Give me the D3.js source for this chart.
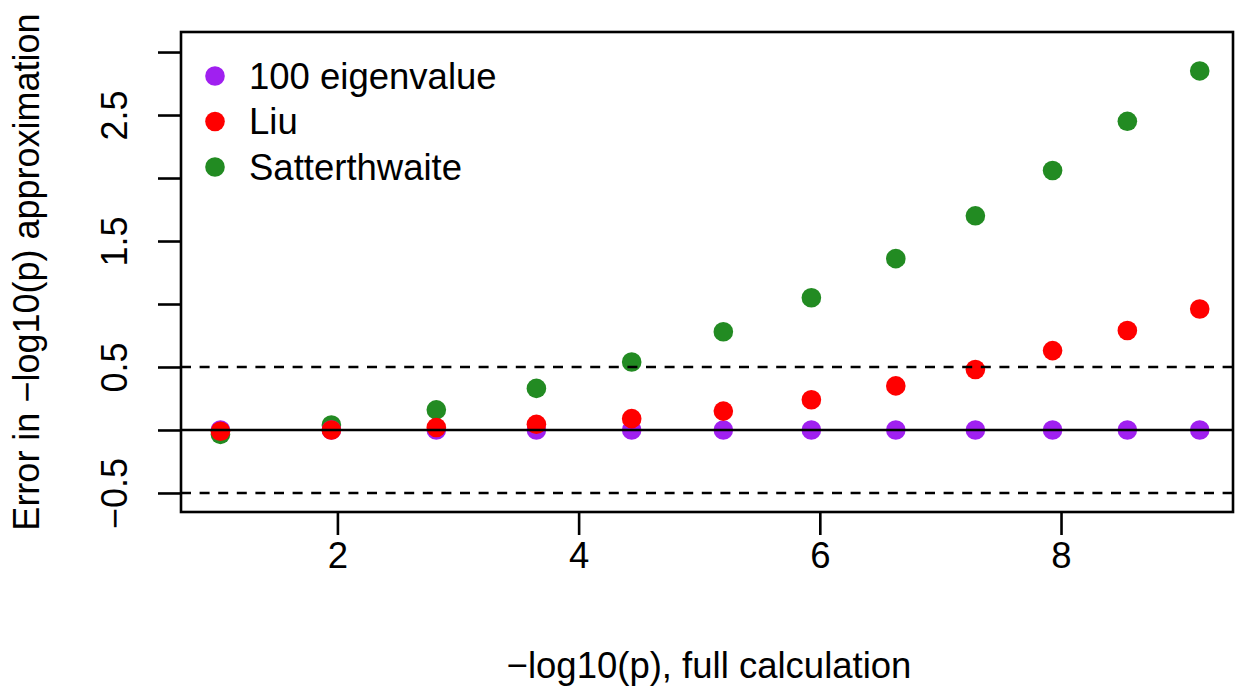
<!DOCTYPE html>
<html><head><meta charset="utf-8">
<script src="https://cdn.jsdelivr.net/npm/d3@7"></script>
<style>
body{margin:0;background:#fff;}
svg text{font-family:"Liberation Sans",Arial,sans-serif;fill:#000;}
</style></head>
<body><svg id="c" width="1244" height="694"></svg>
<script>
const xVals = [1.03, 1.95, 2.82, 3.65, 4.44, 5.20, 5.93, 6.63, 7.29, 7.93, 8.55, 9.15];
const eigen100 = [0, 0, 0, 0, 0, 0, 0, 0, 0, 0, 0, 0];
const liu = [-0.01, 0.00, 0.02, 0.045, 0.09, 0.15, 0.24, 0.35, 0.48, 0.63, 0.79, 0.96];
const satterthwaite = [-0.035, 0.04, 0.16, 0.33, 0.54, 0.78, 1.05, 1.36, 1.70, 2.06, 2.45, 2.85];
const seriesNames = ["100 eigenvalue", "Liu", "Satterthwaite"];
const seriesColors = ["#A020F0", "#FF0000", "#228B22"];
const xTicks = [2, 4, 6, 8];
const yTicks = [-0.5, 0, 0.5, 1, 1.5, 2, 2.5, 3];
const yTickLabels = ["−0.5", "", "0.5", "", "1.5", "", "2.5", ""];
const refLines = [{v: 0, dash: null}, {v: 0.5, dash: "10 8.6"}, {v: -0.5, dash: "10 8.6"}];

const L = 181, R = 1233, T = 32, B = 512;
const FS = 36.5, FSV = 36;
const LW = 2.6;
const svg = d3.select("#c");
const x = d3.scaleLinear().domain([0.703, 9.426]).range([L, R]);
const y = d3.scaleLinear().domain([-0.651, 3.159]).range([B, T]);

// points: draw green, purple, red order
const series = [
  {name: seriesNames[2], vals: satterthwaite, color: seriesColors[2]},
  {name: seriesNames[0], vals: eigen100, color: seriesColors[0]},
  {name: seriesNames[1], vals: liu, color: seriesColors[1]}
];
series.forEach(s => {
  svg.append("g").selectAll("circle").data(s.vals).join("circle")
    .attr("cx", (d, i) => x(xVals[i])).attr("cy", d => y(d))
    .attr("r", 9.8).attr("fill", s.color);
});

// reference lines
svg.append("g").selectAll("line").data(refLines).join("line")
  .attr("x1", L).attr("x2", R)
  .attr("y1", d => y(d.v)).attr("y2", d => y(d.v))
  .attr("stroke", "#000").attr("stroke-width", LW)
  .attr("stroke-dasharray", d => d.dash);

// box
svg.append("rect").attr("x", L).attr("y", T).attr("width", R - L).attr("height", B - T)
  .attr("fill", "none").attr("stroke", "#000").attr("stroke-width", LW);

// x axis
const gx = svg.append("g").attr("transform", `translate(0,${B})`)
  .call(d3.axisBottom(x).tickValues(xTicks).tickSize(23).tickPadding(7).tickFormat(d3.format("d")));
gx.select(".domain").remove();
gx.selectAll(".tick line").attr("stroke", "#000").attr("stroke-width", LW);
gx.selectAll(".tick text").attr("font-size", FS).style("font-family", "'Liberation Sans', Arial, sans-serif");

// y axis
const gy = svg.append("g").attr("transform", `translate(${L},0)`)
  .call(d3.axisLeft(y).tickValues(yTicks).tickSize(23).tickFormat((d, i) => yTickLabels[i]));
gy.select(".domain").remove();
gy.selectAll(".tick line").attr("stroke", "#000").attr("stroke-width", LW);
gy.selectAll(".tick text")
  .attr("font-size", FSV).style("font-family", "'Liberation Sans', Arial, sans-serif")
  .attr("x", null).attr("dy", null)
  .attr("text-anchor", "middle")
  .attr("transform", "translate(-54,0) rotate(-90)");

// axis titles
svg.append("text").attr("x", (L + R) / 2 + 2).attr("y", 678).attr("text-anchor", "middle")
  .attr("font-size", FS).text("−log10(p), full calculation");
svg.append("text").attr("transform", `translate(39,${(T + B) / 2}) rotate(-90)`)
  .attr("text-anchor", "middle").attr("font-size", FSV).text("Error in −log10(p) approximation");

// legend
const lg = svg.append("g");
seriesNames.forEach((n, i) => {
  const cy = 76 + i * 45.5;
  lg.append("circle").attr("cx", 215).attr("cy", cy).attr("r", 9.8).attr("fill", seriesColors[i]);
  lg.append("text").attr("x", 249).attr("y", cy).attr("dy", "0.35em").attr("font-size", FS).text(n);
});
</script></body></html>
